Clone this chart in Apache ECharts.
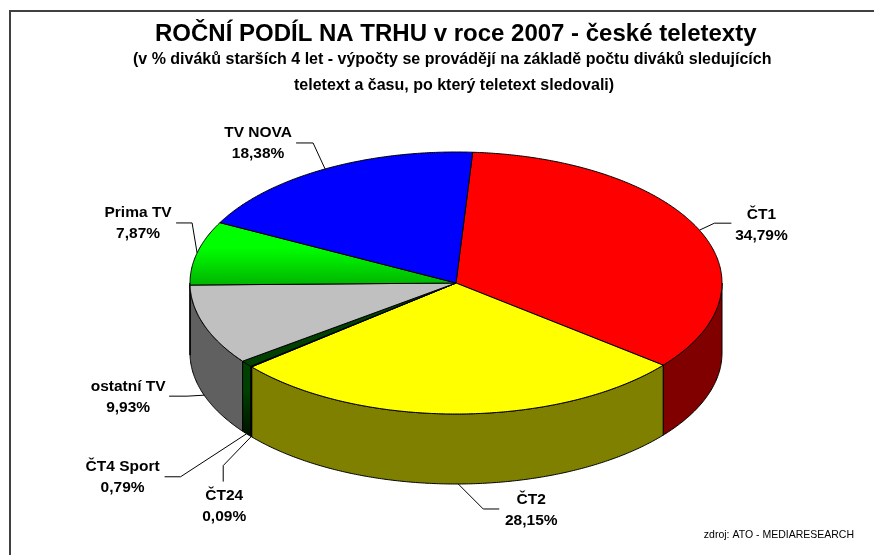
<!DOCTYPE html>
<html>
<head>
<meta charset="utf-8">
<style>html,body{margin:0;padding:0;background:#fff;overflow:hidden}#c{width:874px;height:555px}</style>
<script src="https://cdn.jsdelivr.net/npm/echarts@6/dist/echarts.min.js"></script>
</head>
<body>
<div id="c"></div>
<script>
const categories = ['ČT1', 'ČT2', 'ČT24', 'ČT4 Sport', 'ostatní TV', 'Prima TV', 'TV NOVA'];
const shares = [34.79, 28.15, 0.09, 0.79, 9.93, 7.87, 18.38];
const titleText = 'ROČNÍ PODÍL NA TRHU v roce 2007 - české teletexty';
const subtitleLine1 = '(v % diváků starších 4 let - výpočty se provádějí na základě počtu diváků sledujících';
const subtitleLine2 = 'teletext a času, po který teletext sledovali)';
const sourceText = 'zdroj: ATO - MEDIARESEARCH';

// Presentation, kept apart from the data
const topColors = ['#ff0000', '#ffff00', '#000080', '#004000', '#c0c0c0',
  ['#00ff00', '#00b400'], '#0000ff'];
const sideColors = ['#800000', '#808000', '#000040', ['#004000', '#001000'], '#606060', '#008000', '#000080'];
const pie = { cx: 456, cy: 283, rx: 266, ry: 131, depth: 70, startDeg: 3.6 };
// Leader shape relative to each slice's rim point: elbow, end; label centre
const leaders = [
  { elbow: [15, -7], end: [32, -7], label: [62, -5], front: false },
  { elbow: [25, 25], end: [41, 25], label: [73, 26], front: true },
  { elbow: [-28, 29], end: [-28, 45], label: [-27, 70], front: true },
  { elbow: [-66, 43], end: [-82, 43], label: [-124, 43], front: true },
  { elbow: [-17, 1], end: [-35, 1], label: [-76, 2], front: true },
  { elbow: [-5, -30], end: [-21, -30], label: [-59, -30], front: false },
  { elbow: [-12, -26], end: [-29, -26], label: [-67, -26], front: false }
];
const FONT = '"Liberation Sans", Arial, sans-serif';

const total = shares.reduce((a, b) => a + b, 0);
const rad = d => d * Math.PI / 180;
const rim = (deg, dy) => [
  pie.cx + pie.rx * Math.sin(rad(deg)),
  pie.cy - pie.ry * Math.cos(rad(deg)) + (dy || 0)
];
function arc(a0, a1, dy) {
  const pts = [];
  const n = Math.max(2, Math.ceil((a1 - a0) * 2));
  for (let i = 0; i <= n; i++) pts.push(rim(a0 + (a1 - a0) * i / n, dy));
  return pts;
}
function paint(c) {
  if (!Array.isArray(c)) return c;
  return new echarts.graphic.LinearGradient(0, 0, 0, 1, [
    { offset: 0, color: c[0] }, { offset: 0.4, color: c[0] }, { offset: 1, color: c[1] }
  ]);
}
function renderItem(params, api) {
  const i = params.dataIndex;
  const before = shares.slice(0, i).reduce((a, b) => a + b, 0);
  const a0 = pie.startDeg + before / total * 360;
  const a1 = a0 + api.value(0) / total * 360;
  const mid = (a0 + a1) / 2;
  const children = [];
  const s0 = Math.max(a0, 90), s1 = Math.min(a1, 270);
  if (s1 > s0) {
    children.push({
      type: 'polygon', z2: 1,
      shape: { points: arc(s0, s1, 0).concat(arc(s0, s1, pie.depth).reverse()) },
      style: { fill: paint(sideColors[i]), stroke: '#000', lineWidth: 1 }
    });
  }
  children.push({
    type: 'polygon', z2: 2,
    shape: { points: [[pie.cx, pie.cy]].concat(arc(a0, a1, 0)) },
    style: { fill: paint(topColors[i]), stroke: '#000', lineWidth: 1 }
  });
  const l = leaders[i];
  const p = rim(mid, l.front ? pie.depth : 0);
  children.push({
    type: 'polyline', z2: 3,
    shape: { points: [p, [p[0] + l.elbow[0], p[1] + l.elbow[1]], [p[0] + l.end[0], p[1] + l.end[1]]] },
    style: { fill: null, stroke: '#000', lineWidth: 1 }
  });
  children.push({
    type: 'text', z2: 4,
    x: p[0] + l.label[0], y: p[1] + l.label[1],
    style: {
      text: categories[i] + '\n' + api.value(0).toFixed(2).replace('.', ',') + '%',
      align: 'center', verticalAlign: 'middle', lineHeight: 21,
      font: 'bold 15.5px ' + FONT, fill: '#000'
    }
  });
  return { type: 'group', children };
}

const chart = echarts.init(document.getElementById('c'), null, { renderer: 'canvas' });
chart.setOption({
  animation: false,
  backgroundColor: '#fff',
  title: [
    { text: titleText, left: 155, top: 22, padding: 0,
      textStyle: { fontFamily: FONT, fontWeight: 'bold', fontSize: 24, color: '#000' } },
    { text: subtitleLine1, left: 133, top: 52, padding: 0,
      textStyle: { fontFamily: FONT, fontWeight: 'bold', fontSize: 16, color: '#000' } },
    { text: subtitleLine2, left: 294, top: 78, padding: 0,
      textStyle: { fontFamily: FONT, fontWeight: 'bold', fontSize: 16, color: '#000' } },
    { text: sourceText, right: 20, top: 530, padding: 0,
      textStyle: { fontFamily: FONT, fontWeight: 'normal', fontSize: 10.5, color: '#000' } }
  ],
  graphic: [{
    type: 'rect', z: -1, silent: true,
    shape: { x: 10, y: 11, width: 880, height: 560 },
    style: { fill: '#fff', stroke: '#404040', lineWidth: 2 }
  }],
  series: [{
    type: 'custom', coordinateSystem: 'none', silent: true, renderItem,
    data: shares.map((v, i) => ({ name: categories[i], value: [v] }))
  }]
});
</script>
</body>
</html>
